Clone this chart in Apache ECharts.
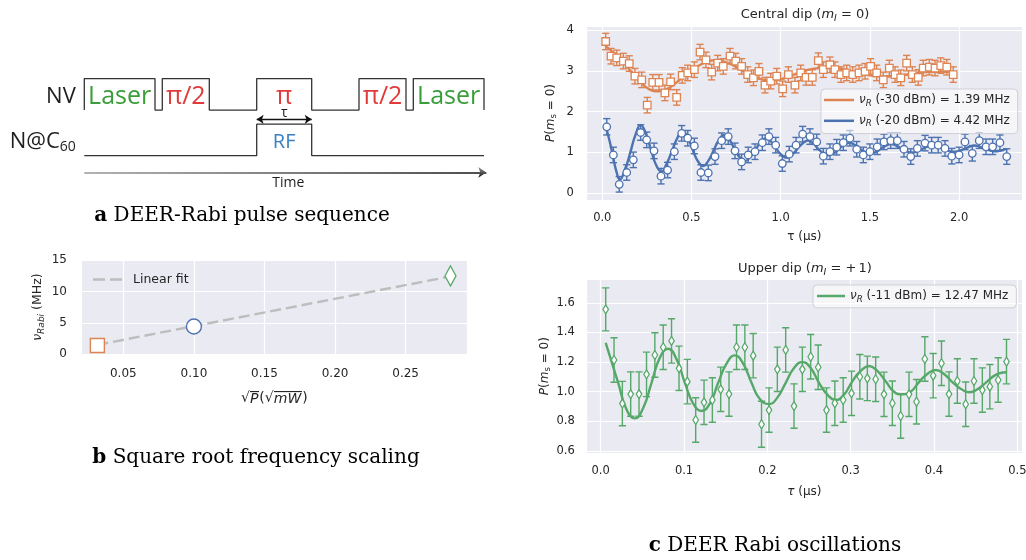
<!DOCTYPE html>
<html><head><meta charset="utf-8">
<script src="https://cdn.jsdelivr.net/npm/echarts/dist/echarts.min.js"></script>
<style>html,body{margin:0;padding:0;background:#fff}#c{width:1026px;height:560px}</style>
</head><body><div id="c"></div>
<script>
// ---------------- DATA ----------------
// Panel a: pulse sequence (time units, channel levels)
const nvPulses = [[0, 70.7], [78, 125], [172.4, 227.4], [274.7, 321.7], [329, 399.7]];
const nvPulseLabels = ['Laser', 'π/2', 'π', 'π/2', 'Laser'];
const rfPulse = [172.4, 227.4];
const seqEnd = 399.7;
const timeArrowEnd = 402;
const nvLevels = [1.45, 2.45];
const rfLevels = [0, 1];

// Panel b: Rabi frequency vs sqrt(P)
const sqrtP = [0.0316, 0.1000, 0.2818];
const nuRabi = [1.39, 4.42, 12.47];
const fitSqrtP = [0.0316, 0.2818];
const fitNu = [1.50, 12.39];

// Panel c (top): central dip, -30 dBm (orange squares)
const tauO = [0.019,0.049,0.081,0.118,0.151,0.183,0.221,0.252,0.283,0.318,0.351,0.383,0.417,0.448,0.479,0.516,0.548,0.581,0.613,0.647,0.678,0.716,0.748,0.781,0.815,0.847,0.878,0.912,0.944,0.978,1.011,1.043,1.080,1.112,1.142,1.177,1.211,1.239,1.276,1.304,1.338,1.370,1.404,1.439,1.473,1.504,1.538,1.575,1.609,1.641,1.673,1.706,1.738,1.771,1.799,1.833,1.865,1.897,1.931,1.967];
const pO = [3.72,3.36,3.32,3.24,3.18,2.87,2.78,2.16,2.72,2.72,2.46,2.73,2.35,2.89,2.95,3.03,3.46,3.27,2.97,3.19,3.11,3.36,3.24,3.11,2.91,2.83,2.99,2.65,2.75,2.87,2.56,2.91,2.65,2.95,2.84,2.84,3.25,3.03,3.15,3.03,2.91,2.95,2.91,2.95,2.99,3.11,2.95,2.78,3.07,2.91,2.83,3.19,2.91,2.84,3.07,3.09,3.07,3.13,3.09,2.91];
const eO = [0.20,0.19,0.19,0.19,0.19,0.19,0.19,0.19,0.19,0.19,0.19,0.19,0.19,0.19,0.19,0.19,0.19,0.19,0.19,0.19,0.19,0.19,0.19,0.19,0.19,0.19,0.19,0.19,0.19,0.19,0.19,0.19,0.19,0.19,0.19,0.19,0.19,0.19,0.19,0.19,0.19,0.19,0.19,0.19,0.19,0.19,0.19,0.19,0.19,0.19,0.19,0.19,0.19,0.19,0.19,0.19,0.19,0.19,0.19,0.19];
const fitTauO = [0.02,0.06,0.10,0.14,0.18,0.22,0.26,0.30,0.34,0.38,0.42,0.46,0.50,0.55,0.59,0.63,0.70,0.78,0.86,0.94,1.02,1.10,1.18,1.26,1.34,1.42,1.50,1.58,1.66,1.74,1.82,1.90,1.97];
const fitPO = [3.60,3.46,3.30,3.10,2.88,2.70,2.56,2.50,2.52,2.60,2.73,2.88,3.02,3.15,3.23,3.26,3.20,3.02,2.84,2.76,2.82,2.95,3.05,3.08,3.05,2.97,2.89,2.86,2.88,2.93,2.97,2.98,2.97];

// Panel c (top): central dip, -20 dBm (blue circles)
const tauB = [0.025,0.062,0.095,0.137,0.174,0.215,0.249,0.290,0.329,0.366,0.404,0.445,0.479,0.516,0.553,0.594,0.632,0.669,0.706,0.744,0.781,0.818,0.856,0.897,0.934,0.972,1.009,1.048,1.086,1.123,1.164,1.202,1.239,1.276,1.314,1.351,1.388,1.426,1.463,1.500,1.541,1.579,1.617,1.654,1.691,1.729,1.766,1.809,1.846,1.883,1.921,1.959,2.000,2.033,2.074,2.113,2.151,2.188,2.229,2.267];
const pB = [1.63,0.94,0.22,0.51,0.82,1.49,1.31,1.04,0.42,0.57,1.02,1.47,1.35,1.16,0.51,0.50,0.90,1.29,1.39,1.04,0.77,0.94,1.02,1.24,1.39,1.18,0.73,0.96,1.18,1.45,1.39,1.26,0.91,1.02,1.13,1.24,1.35,1.08,0.94,1.02,1.14,1.26,1.29,1.29,1.08,0.90,1.10,1.23,1.18,1.18,1.10,0.91,0.94,1.26,0.98,1.29,1.14,1.14,1.24,0.90];
const eB = [0.20,0.19,0.19,0.19,0.19,0.19,0.19,0.19,0.19,0.19,0.19,0.19,0.19,0.19,0.19,0.19,0.19,0.19,0.19,0.19,0.19,0.19,0.19,0.19,0.19,0.19,0.19,0.19,0.19,0.19,0.19,0.19,0.19,0.19,0.19,0.19,0.19,0.19,0.19,0.19,0.19,0.19,0.19,0.19,0.19,0.19,0.19,0.19,0.19,0.19,0.19,0.19,0.19,0.19,0.19,0.19,0.19,0.19,0.19,0.19];
const fitTauB = [0.02,0.04,0.06,0.08,0.098,0.13,0.157,0.185,0.215,0.245,0.274,0.303,0.332,0.36,0.39,0.42,0.449,0.478,0.508,0.537,0.566,0.595,0.624,0.653,0.683,0.712,0.742,0.771,0.80,0.83,0.858,0.888,0.917,0.946,0.975,1.005,1.034,1.063,1.092,1.122,1.151,1.18,1.21,1.24,1.268,1.297,1.327,1.356,1.385,1.414,1.444,1.473,1.502,1.532,1.561,1.59,1.619,1.648,1.678,1.707,1.736,1.766,1.795,1.824,1.853,1.882,1.912,1.941,1.97,2.0,2.029,2.058,2.087,2.116,2.146,2.175,2.204,2.234,2.263];
const fitPB = [1.62,1.30,0.90,0.52,0.34,0.62,1.00,1.42,1.67,1.45,1.05,0.68,0.53,0.72,1.03,1.35,1.53,1.38,1.05,0.78,0.67,0.80,1.05,1.30,1.43,1.32,1.08,0.88,0.79,0.90,1.07,1.25,1.35,1.27,1.09,0.94,0.87,0.94,1.08,1.22,1.29,1.23,1.09,0.98,0.93,0.98,1.09,1.19,1.24,1.19,1.09,1.01,0.97,1.01,1.09,1.17,1.21,1.17,1.09,1.03,1.00,1.03,1.09,1.15,1.19,1.15,1.09,1.04,1.02,1.04,1.09,1.14,1.17,1.14,1.09,1.05,1.03,1.05,1.09];

// Panel c (bottom): upper dip, -11 dBm (green diamonds)
const tauG = [0.006,0.016,0.026,0.036,0.046,0.055,0.065,0.075,0.085,0.094,0.104,0.114,0.124,0.134,0.144,0.154,0.163,0.173,0.183,0.193,0.202,0.212,0.222,0.232,0.242,0.252,0.261,0.271,0.281,0.291,0.301,0.311,0.320,0.330,0.340,0.350,0.360,0.370,0.379,0.389,0.399,0.409,0.418,0.428,0.438,0.448,0.458,0.467,0.477,0.487];
const pG = [1.556,1.214,0.920,0.984,0.984,1.117,1.248,1.300,1.343,1.158,1.068,0.809,0.928,0.944,1.016,0.984,1.300,1.300,1.243,0.780,0.876,1.151,1.282,0.903,1.151,1.236,1.165,0.876,0.922,0.944,0.989,1.101,1.090,1.084,0.982,0.922,0.836,0.982,0.932,1.221,1.108,1.192,0.984,1.072,0.915,1.072,1.011,1.034,1.079,1.203];
const eG = [0.145,0.15,0.15,0.15,0.15,0.15,0.15,0.15,0.15,0.15,0.15,0.15,0.15,0.15,0.15,0.15,0.15,0.15,0.15,0.155,0.15,0.15,0.15,0.15,0.15,0.15,0.15,0.15,0.15,0.15,0.15,0.15,0.15,0.15,0.15,0.15,0.15,0.15,0.15,0.15,0.15,0.15,0.15,0.15,0.15,0.15,0.15,0.15,0.15,0.15];
const fitTauG = [0.006,0.021,0.031,0.041,0.051,0.061,0.071,0.081,0.091,0.101,0.111,0.121,0.131,0.141,0.151,0.161,0.171,0.181,0.191,0.202,0.212,0.222,0.232,0.242,0.252,0.262,0.272,0.282,0.292,0.302,0.312,0.322,0.332,0.342,0.352,0.362,0.372,0.382,0.392,0.402,0.412,0.422,0.432,0.443,0.453,0.463,0.473,0.483,0.487];
const fitPG = [1.33,1.06,0.88,0.82,0.89,1.06,1.23,1.29,1.22,1.06,0.92,0.87,0.92,1.06,1.19,1.245,1.19,1.06,0.95,0.917,0.96,1.06,1.16,1.20,1.16,1.06,0.98,0.944,0.98,1.07,1.14,1.174,1.14,1.07,1.00,0.982,1.00,1.065,1.12,1.147,1.12,1.065,1.02,0.996,1.02,1.065,1.11,1.13,1.131];

// ---------------- STYLE ----------------
const FONT = 'DejaVu Sans';
const SERIF = 'DejaVu Serif';
const DIAG = 'Open Sans';
const C_BLUE = '#4C72B0', C_ORANGE = '#DD8452', C_GREEN = '#55A868';
const TXT = '#262626';
const BG = '#EAEAF2';

const zip = (...arrs) => arrs[0].map((_, i) => arrs.map(a => a[i]));
const onStep = (step, dig) => v => { const k = v / step; return Math.abs(k - Math.round(k)) < 1e-6 ? v.toFixed(dig) : ''; };

// overline image for the square-root radicand
const ovImg = document.createElement('canvas');
ovImg.width = 4; ovImg.height = 40;
(function () { const c = ovImg.getContext('2d'); c.fillStyle = TXT; c.fillRect(0, 0, 4, 2.4); })();

const rich = (fs) => ({
  i: { fontStyle: 'italic', fontFamily: FONT, fontSize: fs, color: TXT },
  sub: { fontFamily: FONT, fontSize: fs * 0.72, padding: [fs * 0.55, 0, 0, 0], color: TXT },
  isub: { fontStyle: 'italic', fontFamily: FONT, fontSize: fs * 0.72, padding: [fs * 0.55, 0, 0, 0], color: TXT },
  o: { fontStyle: 'italic', fontFamily: FONT, fontSize: fs, color: TXT, backgroundColor: { image: ovImg }, padding: [1, 1, 0, 0] }
});

function valAxis(gi, min, max, step, dig, margin, extra) {
  return Object.assign({
    type: 'value', gridIndex: gi, min: min, max: max,
    axisLine: { show: false }, axisTick: { show: false },
    splitLine: { show: true, lineStyle: { color: '#ffffff', width: 1.2 } },
    axisLabel: { fontFamily: FONT, fontSize: 11.5, color: TXT, margin: margin, formatter: onStep(step, dig) }
  }, extra || {});
}

function errRender(color) {
  return function (params, api) {
    const x = api.value(0), y = api.value(1), e = api.value(2);
    const top = api.coord([x, y + e]);
    const bot = api.coord([x, y - e]);
    const st = { stroke: color, lineWidth: 1.4 };
    const cap = 3.6;
    return { type: 'group', children: [
      { type: 'line', shape: { x1: top[0], y1: top[1], x2: bot[0], y2: bot[1] }, style: st },
      { type: 'line', shape: { x1: top[0] - cap, y1: top[1], x2: top[0] + cap, y2: top[1] }, style: st },
      { type: 'line', shape: { x1: bot[0] - cap, y1: bot[1], x2: bot[0] + cap, y2: bot[1] }, style: st }
    ] };
  };
}

// ---------------- PANEL a helpers ----------------
const nvWave = [];
nvPulses.forEach(p => { nvWave.push([p[0], nvLevels[0]], [p[0], nvLevels[1]], [p[1], nvLevels[1]], [p[1], nvLevels[0]]); });
const rfWave = [[0, rfLevels[0]], [rfPulse[0], rfLevels[0]], [rfPulse[0], rfLevels[1]], [rfPulse[1], rfLevels[1]], [rfPulse[1], rfLevels[0]], [seqEnd, rfLevels[0]]];
const nvTextY = (nvLevels[0] + nvLevels[1]) / 2 - 0.08;
const rfTextY = (rfLevels[0] + rfLevels[1]) / 2 - 0.06;
const rfMid = (rfPulse[0] + rfPulse[1]) / 2;
const pulseColor = { 'Laser': '#3A9E3A', 'π/2': '#E03A3A', 'π': '#E03A3A' };

const diagLabels = nvPulses.map((p, i) => ({
  value: [(p[0] + p[1]) / 2, nvTextY],
  label: { show: true, position: 'inside', formatter: nvPulseLabels[i], fontFamily: DIAG, fontSize: 25, color: pulseColor[nvPulseLabels[i]] }
})).concat([
  { value: [-8, nvTextY], label: { show: true, position: 'left', distance: 0, formatter: 'NV', fontFamily: DIAG, fontSize: 22, color: '#1e1e1e' } },
  { value: [-8, rfTextY], label: { show: true, position: 'left', distance: 0, formatter: 'N@C{s|60}', fontFamily: DIAG, fontSize: 22, color: '#1e1e1e',
      rich: { s: { fontFamily: DIAG, fontSize: 14, color: '#1e1e1e', padding: [11, 0, 0, 0] } } } },
  { value: [rfMid, rfTextY], label: { show: true, position: 'inside', formatter: 'RF', fontFamily: DIAG, fontSize: 20, color: '#3A80C2' } },
  { value: [rfMid, 1.36], label: { show: true, position: 'inside', formatter: 'τ', fontFamily: DIAG, fontSize: 14, color: '#1e1e1e' } },
  { value: [204, -0.86], label: { show: true, position: 'inside', formatter: 'Time', fontFamily: DIAG, fontSize: 14, color: '#1e1e1e' } }
]);

const legendRich = rich(12);
const legendNames = {
  nuR30: '{i|ν}{isub|R} (-30 dBm) = 1.39 MHz',
  nuR20: '{i|ν}{isub|R} (-20 dBm) = 4.42 MHz',
  nuR11: '{i|ν}{isub|R} (-11 dBm) = 12.47 MHz'
};

const capRich = { b: { fontFamily: SERIF, fontSize: 20, fontWeight: 'bold', color: '#000' } };
const capStyle = (t) => ({ text: t, fontFamily: SERIF, fontSize: 20, fill: '#000', align: 'center', textAlign: 'center', verticalAlign: 'middle', textVerticalAlign: 'middle', rich: capRich });

const option = {
  animation: false,
  backgroundColor: '#ffffff',
  grid: [
    { left: 0, top: 61.2, width: 530, height: 126, outerBoundsMode: 'none' },
    { left: 81, top: 260, width: 386.7, height: 94.3, show: true, backgroundColor: BG, borderWidth: 0, outerBoundsMode: 'none' },
    { left: 586.7, top: 26, width: 435.3, height: 174, show: true, backgroundColor: BG, borderWidth: 0, outerBoundsMode: 'none' },
    { left: 586.7, top: 279, width: 435.3, height: 174.3, show: true, backgroundColor: BG, borderWidth: 0, outerBoundsMode: 'none' }
  ],
  xAxis: [
    { type: 'value', gridIndex: 0, min: -84.3, max: 445.7, show: false },
    valAxis(1, 0.020, 0.294, 0.05, 2, 14, {
      name: '√{o|P}(√{o|mW})', nameLocation: 'middle', nameGap: 37,
      nameTextStyle: { fontFamily: FONT, fontSize: 14, color: TXT, rich: rich(14) },
      axisLabel: { fontFamily: FONT, fontSize: 12, color: TXT, margin: 14, formatter: onStep(0.05, 2) } }),
    valAxis(2, -0.0874, 2.3526, 0.5, 1, 12, {
      name: 'τ (µs)', nameLocation: 'middle', nameGap: 31,
      nameTextStyle: { fontFamily: FONT, fontSize: 12, color: TXT } }),
    valAxis(3, -0.0168, 0.5056, 0.1, 1, 12, {
      name: '{i|τ} (µs)', nameLocation: 'middle', nameGap: 33,
      nameTextStyle: { fontFamily: FONT, fontSize: 12, color: TXT, rich: rich(12) } })
  ],
  yAxis: [
    { type: 'value', gridIndex: 0, min: -1, max: 3, show: false },
    Object.assign(valAxis(1, 0, 15, 5, 0, 14, {
      interval: 5,
      name: '{i|ν}{isub|Rabi} (MHz)', nameLocation: 'middle', nameGap: 35, nameRotate: 90,
      nameTextStyle: { fontFamily: FONT, fontSize: 12.5, color: TXT, rich: rich(12.5) } }),
      { axisLabel: { fontFamily: FONT, fontSize: 12, color: TXT, margin: 14 } }),
    valAxis(2, -0.164, 4.10, 1, 0, 13, {
      name: '{i|P}({i|m}{sub|s} = 0)', nameLocation: 'middle', nameGap: 28, nameRotate: 90,
      nameTextStyle: { fontFamily: FONT, fontSize: 12, color: TXT, rich: rich(12) } }),
    valAxis(3, 0.584, 1.761, 0.2, 1, 12, {
      name: '{i|P}({i|m}{sub|s} = 0)', nameLocation: 'middle', nameGap: 32, nameRotate: 90,
      nameTextStyle: { fontFamily: FONT, fontSize: 12, color: TXT, rich: rich(12) } })
  ],
  legend: [
    { data: ['Linear fit'], left: 88, top: 268, orient: 'vertical', icon: 'path://M0,0h12v2.5h-12z M17,0h12v2.5h-12z',
      itemWidth: 29, itemHeight: 2.5, textStyle: { fontFamily: FONT, fontSize: 12.5, color: TXT, padding: [0, 0, 0, 6] }, selectedMode: false },
    { data: ['nuR30', 'nuR20'], left: 821, top: 89, orient: 'vertical', icon: 'rect', itemWidth: 30, itemHeight: 2.5, itemGap: 7,
      padding: [5, 8, 5, 3], backgroundColor: 'rgba(255,255,255,0.55)', borderColor: '#cfcfd8', borderWidth: 1, borderRadius: 4,
      formatter: n => legendNames[n], textStyle: { fontFamily: FONT, fontSize: 12, color: TXT, rich: legendRich }, selectedMode: false },
    { data: ['nuR11'], left: 813, top: 285, orient: 'vertical', icon: 'rect', itemWidth: 28, itemHeight: 2.5,
      padding: [5, 8, 4, 4], backgroundColor: 'rgba(255,255,255,0.55)', borderColor: '#cfcfd8', borderWidth: 1, borderRadius: 4,
      formatter: n => legendNames[n], textStyle: { fontFamily: FONT, fontSize: 12, color: TXT, rich: legendRich }, selectedMode: false }
  ],
  graphic: [
    { type: 'text', x: 242, y: 216, style: capStyle('{b|a} DEER-Rabi pulse sequence') },
    { type: 'text', x: 256, y: 458, style: capStyle('{b|b} Square root frequency scaling') },
    { type: 'text', x: 775, y: 546, style: capStyle('{b|c} DEER Rabi oscillations') },
    { type: 'text', x: 805, y: 14.5, style: { text: 'Central dip ({i|m}{isub|I} = 0)', fontFamily: FONT, fontSize: 13, fill: TXT, align: 'center', textAlign: 'center', verticalAlign: 'middle', textVerticalAlign: 'middle', rich: rich(13) } },
    { type: 'text', x: 805, y: 268.5, style: { text: 'Upper dip ({i|m}{isub|I} = +\u20061)', fontFamily: FONT, fontSize: 13, fill: TXT, align: 'center', textAlign: 'center', verticalAlign: 'middle', textVerticalAlign: 'middle', rich: rich(13) } }
  ],
  series: [
    // ---- panel a ----
    { type: 'line', xAxisIndex: 0, yAxisIndex: 0, data: nvWave, symbol: 'none', lineStyle: { color: '#333', width: 1.3 }, silent: true },
    { type: 'line', xAxisIndex: 0, yAxisIndex: 0, data: rfWave, symbol: 'none', lineStyle: { color: '#333', width: 1.3 }, silent: true },
    { type: 'lines', coordinateSystem: 'cartesian2d', xAxisIndex: 0, yAxisIndex: 0, symbol: ['arrow', 'arrow'], symbolSize: 7,
      lineStyle: { color: '#111', width: 1.3, opacity: 1 }, data: [{ coords: [[rfPulse[0], 1.155], [rfPulse[1], 1.155]] }], silent: true },
    { type: 'lines', coordinateSystem: 'cartesian2d', xAxisIndex: 0, yAxisIndex: 0, symbol: ['none', 'arrow'], symbolSize: 8,
      lineStyle: { color: { type: 'linear', x: 0, y: 0, x2: 1, y2: 0, colorStops: [{ offset: 0, color: '#9a9a9a' }, { offset: 1, color: '#111' }] }, width: 1.6, opacity: 1 },
      data: [{ coords: [[0, -0.53], [timeArrowEnd, -0.53]] }], silent: true },
    { type: 'scatter', xAxisIndex: 0, yAxisIndex: 0, symbolSize: 1, itemStyle: { color: 'rgba(0,0,0,0)', opacity: 1 }, data: diagLabels, silent: true, clip: false },

    // ---- panel b ----
    { name: 'Linear fit', type: 'line', xAxisIndex: 1, yAxisIndex: 1, data: zip(fitSqrtP, fitNu), symbol: 'none',
      itemStyle: { color: '#bdbdbd' }, lineStyle: { color: '#bdbdbd', width: 2.4, type: [11, 5] }, z: 2 },
    { type: 'scatter', xAxisIndex: 1, yAxisIndex: 1, z: 4, clip: false,
      data: zip(sqrtP, nuRabi).map((v, i) => ({
        value: v,
        symbol: ['rect', 'circle', 'diamond'][i],
        symbolSize: [[14, 14], [15, 15], [11, 20]][i],
        itemStyle: { color: '#fff', opacity: 1, borderColor: [C_ORANGE, C_BLUE, C_GREEN][i], borderWidth: 1.4 }
      })) },

    // ---- panel c top ----
    { type: 'custom', xAxisIndex: 2, yAxisIndex: 2, renderItem: errRender(C_ORANGE), data: zip(tauO, pO, eO), encode: { x: 0, y: 1 }, z: 2, clip: true },
    { type: 'custom', xAxisIndex: 2, yAxisIndex: 2, renderItem: errRender(C_BLUE), data: zip(tauB, pB, eB), encode: { x: 0, y: 1 }, z: 2, clip: true },
    { name: 'nuR30', type: 'line', xAxisIndex: 2, yAxisIndex: 2, data: zip(fitTauO, fitPO), symbol: 'none', smooth: 0.5,
      itemStyle: { color: C_ORANGE }, lineStyle: { color: C_ORANGE, width: 2.4 }, z: 3 },
    { name: 'nuR20', type: 'line', xAxisIndex: 2, yAxisIndex: 2, data: zip(fitTauB, fitPB), symbol: 'none', smooth: 0.5,
      itemStyle: { color: C_BLUE }, lineStyle: { color: C_BLUE, width: 2.4 }, z: 3 },
    { type: 'scatter', xAxisIndex: 2, yAxisIndex: 2, data: zip(tauO, pO), symbol: 'rect', symbolSize: 7.5,
      itemStyle: { color: '#fff', opacity: 1, borderColor: C_ORANGE, borderWidth: 1.3 }, z: 4 },
    { type: 'scatter', xAxisIndex: 2, yAxisIndex: 2, data: zip(tauB, pB), symbol: 'circle', symbolSize: 7.5,
      itemStyle: { color: '#fff', opacity: 1, borderColor: C_BLUE, borderWidth: 1.3 }, z: 4 },

    // ---- panel c bottom ----
    { type: 'custom', xAxisIndex: 3, yAxisIndex: 3, renderItem: errRender(C_GREEN), data: zip(tauG, pG, eG), encode: { x: 0, y: 1 }, z: 2, clip: true },
    { name: 'nuR11', type: 'line', xAxisIndex: 3, yAxisIndex: 3, data: zip(fitTauG, fitPG), symbol: 'none', smooth: 0.5,
      itemStyle: { color: C_GREEN }, lineStyle: { color: C_GREEN, width: 2.4 }, z: 3 },
    { type: 'scatter', xAxisIndex: 3, yAxisIndex: 3, data: zip(tauG, pG), symbol: 'diamond', symbolSize: [5.5, 9],
      itemStyle: { color: '#fff', opacity: 1, borderColor: C_GREEN, borderWidth: 1.3 }, z: 4 }
  ]
};

const chart = echarts.init(document.getElementById('c'));
chart.setOption(option);
</script></body></html>
